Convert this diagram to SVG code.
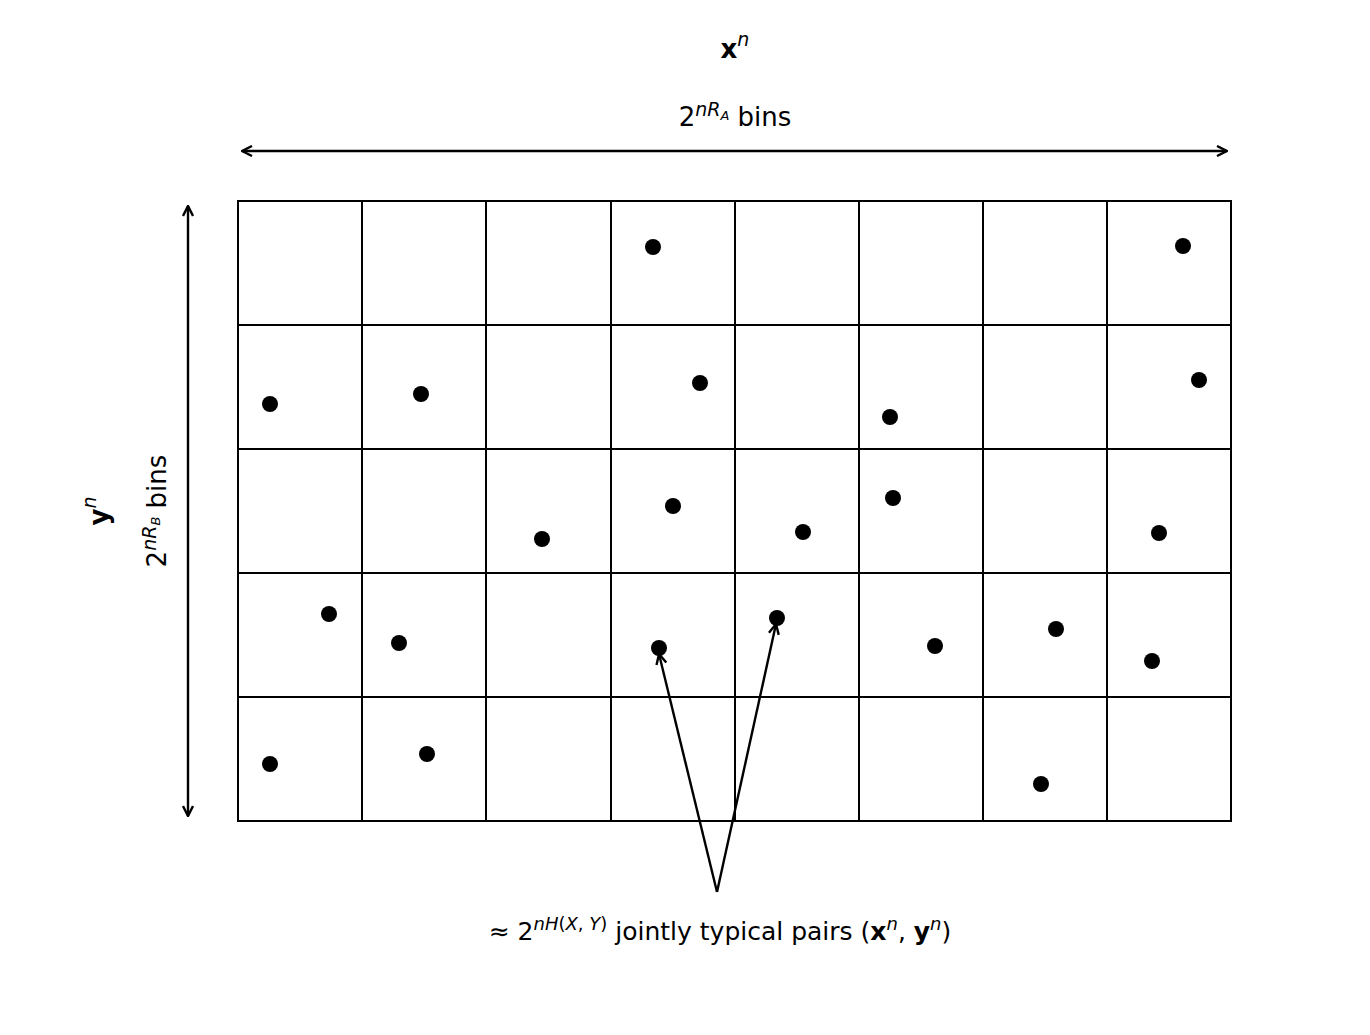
<svg xmlns="http://www.w3.org/2000/svg" width="1370" height="1035" viewBox="0 0 1370 1035">
<style>
.t{font-family:"DejaVu Sans",sans-serif;font-size:26px;fill:#000}
.b{font-weight:bold}
.i{font-style:italic}
.s{font-size:19px}
.ss{font-size:13px}
.g{stroke:#000;stroke-width:2;fill:none}
.a{stroke:#000;stroke-width:2.4;fill:none}
.d{fill:#000}
</style>
<defs>
<marker id="ah" viewBox="0 0 12 12" refX="11" refY="6" markerWidth="12" markerHeight="12" markerUnits="userSpaceOnUse" orient="auto-start-reverse">
<path d="M1,1 L11,6 L1,11" fill="none" stroke="#000" stroke-width="2.4"/>
</marker>
</defs>
<rect width="1370" height="1035" fill="#fff"/>
<g id="grid">
<rect class="g" x="238" y="201" width="993" height="620"/>
<path class="g" d="M362,201V821M486,201V821M611,201V821M735,201V821M859,201V821M983,201V821M1107,201V821M238,325H1231M238,449H1231M238,573H1231M238,697H1231"/>
</g>
<g id="points">
<circle class="d" cx="653" cy="247" r="8"/>
<circle class="d" cx="1183" cy="246" r="8"/>
<circle class="d" cx="270" cy="404" r="8"/>
<circle class="d" cx="421" cy="394" r="8"/>
<circle class="d" cx="700" cy="383" r="8"/>
<circle class="d" cx="890" cy="417" r="8"/>
<circle class="d" cx="1199" cy="380" r="8"/>
<circle class="d" cx="542" cy="539" r="8"/>
<circle class="d" cx="673" cy="506" r="8"/>
<circle class="d" cx="803" cy="532" r="8"/>
<circle class="d" cx="893" cy="498" r="8"/>
<circle class="d" cx="1159" cy="533" r="8"/>
<circle class="d" cx="329" cy="614" r="8"/>
<circle class="d" cx="399" cy="643" r="8"/>
<circle class="d" cx="659" cy="648" r="8"/>
<circle class="d" cx="777" cy="618" r="8"/>
<circle class="d" cx="935" cy="646" r="8"/>
<circle class="d" cx="1056" cy="629" r="8"/>
<circle class="d" cx="1152" cy="661" r="8"/>
<circle class="d" cx="270" cy="764" r="8"/>
<circle class="d" cx="427" cy="754" r="8"/>
<circle class="d" cx="1041" cy="784" r="8"/>
</g>
<g id="connectors">
<line class="a" x1="242" y1="151" x2="1227" y2="151" marker-start="url(#ah)" marker-end="url(#ah)"/>
<line class="a" x1="188" y1="206" x2="188" y2="816" marker-start="url(#ah)" marker-end="url(#ah)"/>
<line class="a" x1="717" y1="892" x2="659" y2="654" marker-end="url(#ah)"/>
<line class="a" x1="717" y1="892" x2="776" y2="624" marker-end="url(#ah)"/>
</g>
<g id="labels">
<text class="t" x="735" y="58" text-anchor="middle"><tspan class="b">x</tspan><tspan class="i s" dy="-12">n</tspan></text>
<text class="t" x="735" y="126" text-anchor="middle">2<tspan class="i s" dy="-10">nR</tspan><tspan class="i ss" dy="4">A</tspan><tspan dy="6"> bins</tspan></text>
<text class="t" transform="translate(108,511) rotate(-90)" text-anchor="middle"><tspan class="b">y</tspan><tspan class="i s" dy="-12">n</tspan></text>
<text class="t" transform="translate(166,511) rotate(-90)" text-anchor="middle">2<tspan class="i s" dy="-10">nR</tspan><tspan class="i ss" dy="4">B</tspan><tspan dy="6"> bins</tspan></text>
<text class="t" x="720" y="940" text-anchor="middle" style="font-size:25px">≈ 2<tspan class="i s" dy="-10" style="font-size:18px">nH</tspan><tspan class="s" style="font-size:18px">(</tspan><tspan class="i s" style="font-size:18px">X</tspan><tspan class="s" style="font-size:18px">, </tspan><tspan class="i s" style="font-size:18px">Y</tspan><tspan class="s" style="font-size:18px">)</tspan><tspan dy="10"> jointly typical pairs (</tspan><tspan class="b">x</tspan><tspan class="i s" dy="-10" style="font-size:18px">n</tspan><tspan dy="10">, </tspan><tspan class="b">y</tspan><tspan class="i s" dy="-10" style="font-size:18px">n</tspan><tspan dy="10">)</tspan></text>
</g>
</svg>
